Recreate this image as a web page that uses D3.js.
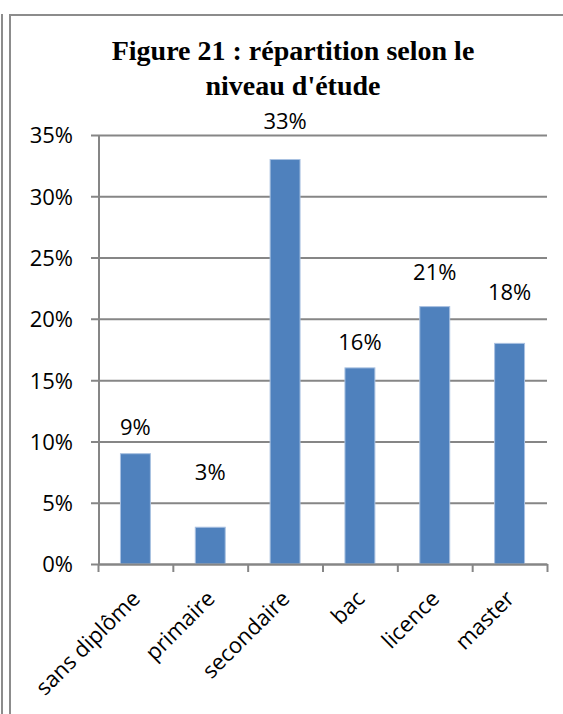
<!DOCTYPE html>
<html>
<head>
<meta charset="utf-8">
<script src="https://cdn.jsdelivr.net/npm/d3@7"></script>
<style>
  body { margin: 0; background: #fff; }
  svg { display: block; }
</style>
</head>
<body>
<div id="chart-area"></div>
<script>
const categories = ["sans diplôme", "primaire", "secondaire", "bac", "licence", "master"];
const values = [0.09, 0.03, 0.33, 0.16, 0.21, 0.18];
// where each value label sits (data units, labels were moved by hand in the original)
const labelAt = [0.105, 0.0685, 0.355, 0.1745, 0.232, 0.215];
const yTicks = [0, 0.05, 0.10, 0.15, 0.20, 0.25, 0.30, 0.35];
const titleLines = ["Figure 21 : répartition selon le", "niveau d'étude"];

const width = 563;
const height = 714;
const plotLeft = 99, plotRight = 547, plotTop = 135, plotBottom = 564;
const gridColor = "#868686";
const labelFont = "'Open Sans', sans-serif";

const svg = d3.select("#chart-area")
  .append("svg")
  .attr("width", width)
  .attr("height", height);

// frame lines
svg.append("path")
  .attr("d", `M2,14V${height}M10,${height}V15H${width}`)
  .attr("fill", "none")
  .attr("stroke", "#8c8c8c")
  .attr("stroke-width", 2);

// title
svg.append("text")
  .attr("text-anchor", "middle")
  .style("font-family", "'Liberation Serif', 'Times New Roman', serif")
  .style("font-weight", "bold")
  .style("font-size", "28px")
  .selectAll("tspan")
  .data(titleLines)
  .enter()
  .append("tspan")
  .attr("x", 293)
  .attr("y", (d, i) => 60 + i * 35)
  .text(d => d);

const x = d3.scaleBand()
  .domain(categories)
  .range([plotLeft - 1, plotRight]);

const xEdge = d3.scaleLinear()
  .domain([0, categories.length])
  .range([plotLeft - 1, plotRight]);

const y = d3.scaleLinear()
  .domain([0, 0.35])
  .range([plotBottom, plotTop]);

// gridlines + y labels
const yAxis = svg.append("g")
  .attr("transform", `translate(${plotLeft - 8},0)`)
  .call(d3.axisLeft(y)
    .tickValues(yTicks)
    .tickFormat(d3.format(".0%"))
    .tickSize(-(plotRight - plotLeft + 8))
    .tickPadding(18));
yAxis.select(".domain").remove();
yAxis.selectAll(".tick line")
  .attr("stroke", gridColor)
  .attr("stroke-width", 2);
yAxis.selectAll(".tick text")
  .attr("fill", "#000")
  .attr("dy", "0.36em")
  .style("font-family", labelFont)
  .style("font-size", "22px");

// y axis line
svg.append("line")
  .attr("x1", plotLeft).attr("x2", plotLeft)
  .attr("y1", y(0.35)).attr("y2", y(0))
  .attr("stroke", gridColor)
  .attr("stroke-width", 2);

// bars
const barW = x.bandwidth() * 0.4;
svg.selectAll("rect.bar")
  .data(values)
  .enter()
  .append("rect")
  .attr("class", "bar")
  .attr("x", (d, i) => x(categories[i]) + (x.bandwidth() - barW) / 2)
  .attr("y", d => y(d))
  .attr("width", barW)
  .attr("height", d => y(0) - y(d))
  .attr("fill", "#4F81BD")
  .attr("stroke", "#a9c1e1")
  .attr("stroke-width", 1);

// x axis ticks at category edges
const xAxis = svg.append("g")
  .attr("transform", `translate(0,${plotBottom})`)
  .call(d3.axisBottom(xEdge)
    .tickValues(d3.range(categories.length + 1))
    .tickFormat("")
    .tickSize(8)
    .tickSizeOuter(0));
xAxis.selectAll("path, line")
  .attr("stroke", gridColor)
  .attr("stroke-width", 2);

// rotated category labels
svg.selectAll("text.cat")
  .data(categories)
  .enter()
  .append("text")
  .attr("class", "cat")
  .attr("text-anchor", "end")
  .attr("transform", d => `translate(${x(d) + x.bandwidth() / 2 + 6},${plotBottom + 36}) rotate(-45)`)
  .style("font-family", labelFont)
  .style("font-size", "22px")
  .text(d => d);

// value labels
svg.selectAll("text.val")
  .data(values)
  .enter()
  .append("text")
  .attr("class", "val")
  .attr("text-anchor", "middle")
  .attr("x", (d, i) => x(categories[i]) + x.bandwidth() / 2)
  .attr("y", (d, i) => y(labelAt[i]))
  .style("font-family", labelFont)
  .style("font-size", "22px")
  .text(d => d3.format(".0%")(d));
</script>
</body>
</html>
